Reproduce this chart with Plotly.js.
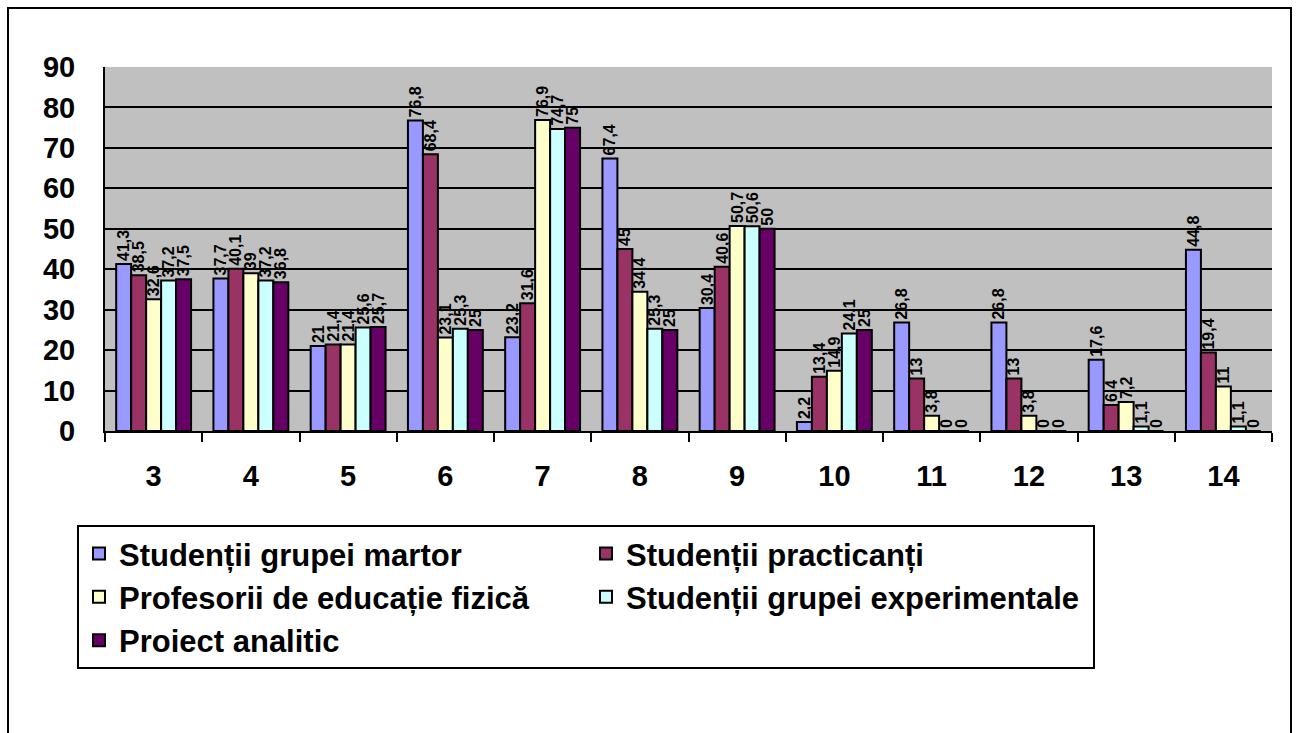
<!DOCTYPE html>
<html>
<head>
<meta charset="utf-8">
<script src="https://cdn.plot.ly/plotly-3.0.1.min.js"></script>
<style>
  html, body { margin: 0; padding: 0; width: 1299px; height: 733px; overflow: hidden; background: #fff; }
  #chart { position: absolute; left: 0; top: 0; width: 1299px; height: 733px; }
  #frame { position: absolute; left: 7px; top: 7px; width: 1281px; height: 800px; border: 2px solid #000; pointer-events: none; }
</style>
</head>
<body>
<div id="chart"></div>
<div id="frame"></div>
<script>
const categories = ['3', '4', '5', '6', '7', '8', '9', '10', '11', '12', '13', '14'];
const seriesNames = [
  'Studenții grupei martor',
  'Studenții practicanți',
  'Profesorii de educație fizică',
  'Studenții grupei experimentale',
  'Proiect analitic'
];
const martor        = [41.3, 37.7, 21.0, 76.8, 23.2, 67.4, 30.4, 2.2, 26.8, 26.8, 17.6, 44.8];
const practicanti   = [38.5, 40.1, 21.4, 68.4, 31.6, 45.0, 40.6, 13.4, 13.0, 13.0, 6.4, 19.4];
const profesori     = [32.6, 39.0, 21.4, 23.1, 76.9, 34.4, 50.7, 14.9, 3.8, 3.8, 7.2, 11.0];
const experimentale = [37.2, 37.2, 25.6, 25.3, 74.7, 25.3, 50.6, 24.1, 0, 0, 1.1, 1.1];
const proiect       = [37.5, 36.8, 25.7, 25.0, 75.0, 25.0, 50.0, 25.0, 0, 0, 0, 0];
const yTicks = [0, 10, 20, 30, 40, 50, 60, 70, 80, 90];

const seriesValues = [martor, practicanti, profesori, experimentale, proiect];
const colors = ['#9999FF', '#993366', '#FFFFCC', '#CCFFFF', '#660066'];

const FONT = 'Liberation Sans, Arial, Helvetica, sans-serif';

const traces = seriesValues.map((vals, i) => ({
  type: 'bar',
  name: seriesNames[i],
  x: categories,
  y: vals,
  text: vals.map(v => String(v).replace('.', ',')),
  textposition: 'outside',
  textangle: -90,
  constraintext: 'none',
  cliponaxis: false,
  textfont: { family: FONT, size: 16, color: '#000', weight: 'bold' },
  marker: { color: colors[i], line: { color: '#000', width: 2 } },
  hoverinfo: 'x+y+name'
}));

const layout = {
  width: 1299,
  height: 733,
  margin: { l: 105, r: 27, t: 67, b: 302, pad: 0 },
  paper_bgcolor: 'rgba(0,0,0,0)',
  plot_bgcolor: '#C0C0C0',
  barmode: 'group',
  bargap: 0.23,
  bargroupgap: 0,
  font: { family: FONT, color: '#000' },
  showlegend: true,
  xaxis: {
    type: 'category',
    showline: true,
    linecolor: '#000',
    linewidth: 2,
    ticks: 'outside',
    tickson: 'boundaries',
    ticklen: 9,
    tickwidth: 2,
    tickcolor: '#000',
    ticklabelstandoff: 18,
    showgrid: false,
    tickfont: { family: FONT, size: 29, color: '#000', weight: 'bold' }
  },
  yaxis: {
    range: [0, 90],
    tickvals: yTicks,
    ticktext: yTicks.map(String),
    showline: true,
    linecolor: '#000',
    linewidth: 2,
    ticks: 'inside',
    ticklen: 9,
    tickwidth: 2,
    tickcolor: '#000',
    ticklabelstandoff: 22,
    showgrid: true,
    gridcolor: '#000',
    gridwidth: 2,
    zeroline: false,
    tickfont: { family: FONT, size: 29, color: '#000', weight: 'bold' }
  },
  legend: {
    orientation: 'h',
    x: -0.024,
    xanchor: 'left',
    y: -0.258,
    yanchor: 'top',
    entrywidth: 462,
    entrywidthmode: 'pixels',
    bgcolor: '#fff',
    bordercolor: '#000',
    borderwidth: 2,
    font: { family: FONT, size: 31, color: '#000', weight: 'bold' },
    traceorder: 'normal'
  }
};

Plotly.newPlot('chart', traces, layout, { displayModeBar: false, responsive: false });
</script>
</body>
</html>
